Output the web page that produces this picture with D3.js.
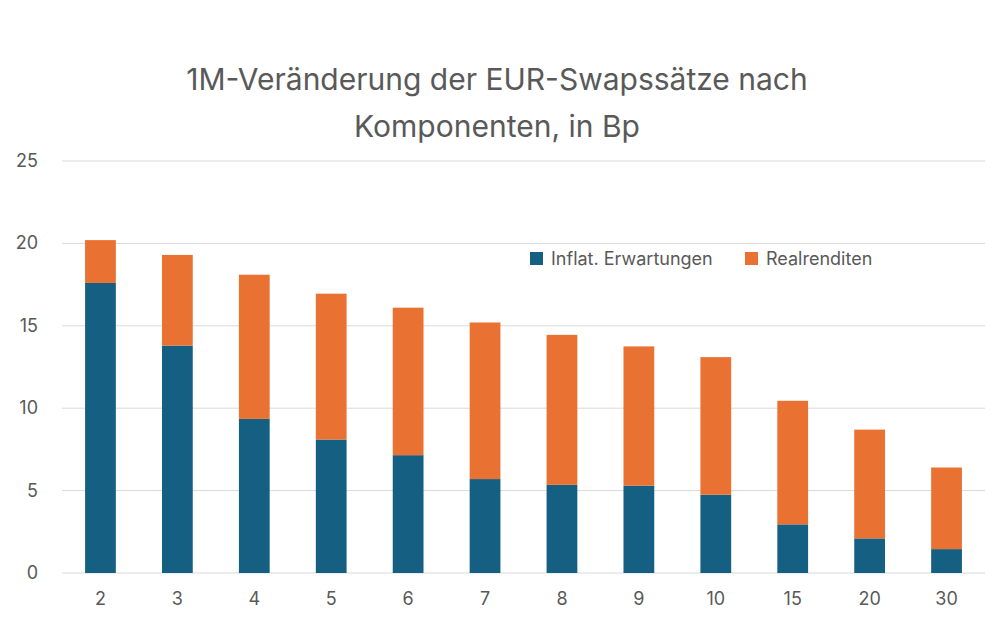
<!DOCTYPE html>
<html>
<head>
<meta charset="utf-8">
<script src="https://cdn.jsdelivr.net/npm/d3@7"></script>
<style>
  body { margin: 0; background: #fff; }
  text { font-family: Inter, "Open Sans", sans-serif; fill: #595959; }
</style>
</head>
<body>
<svg width="1008" height="642"></svg>
<script>
const laufzeiten = ['2', '3', '4', '5', '6', '7', '8', '9', '10', '15', '20', '30']
const inflation = [17.6, 13.8, 9.35, 8.1, 7.15, 5.7, 5.35, 5.3, 4.75, 2.95, 2.1, 1.45]
const gesamt = [20.2, 19.3, 18.1, 16.95, 16.1, 15.2, 14.45, 13.75, 13.1, 10.45, 8.7, 6.4]
const real = gesamt.map((g, i) => +(g - inflation[i]).toFixed(2))
const yTicks = [0, 5, 10, 15, 20, 25]
const serien = [
  { name: 'Inflat. Erwartungen', color: '#156082' },
  { name: 'Realrenditen', color: '#E97132' }
]

const svg = d3.select('svg')
const plotLeft = 62, plotRight = 985, plotTop = 161, plotBottom = 573

const x = d3.scaleBand().domain(laufzeiten).range([plotLeft, plotRight]).paddingInner(0.6).paddingOuter(0.3)
const y = d3.scaleLinear().domain([0, 25]).range([plotBottom, plotTop])

// gridlines + y labels
svg.selectAll('.grid').data(yTicks).join('line')
  .attr('x1', plotLeft).attr('x2', plotRight)
  .attr('y1', d => y(d)).attr('y2', d => y(d))
  .attr('stroke', '#d9d9d9').attr('stroke-width', 1)
svg.selectAll('.ylab').data(yTicks).join('text')
  .attr('x', 38).attr('y', d => y(d) + 6)
  .attr('text-anchor', 'end').attr('font-size', 18)
  .text(d => d)

// stacked bars
const stack = laufzeiten.map((k, i) => ({ k, a: inflation[i], b: real[i] }))
svg.selectAll('.inf').data(stack).join('rect')
  .attr('x', d => x(d.k)).attr('width', x.bandwidth())
  .attr('y', d => y(d.a)).attr('height', d => y(0) - y(d.a))
  .attr('fill', serien[0].color)
svg.selectAll('.real').data(stack).join('rect')
  .attr('x', d => x(d.k)).attr('width', x.bandwidth())
  .attr('y', d => y(d.a + d.b)).attr('height', d => y(d.a) - y(d.a + d.b))
  .attr('fill', serien[1].color)

// x labels
svg.selectAll('.xlab').data(laufzeiten).join('text')
  .attr('x', d => x(d) + x.bandwidth() / 2).attr('y', 605)
  .attr('text-anchor', 'middle').attr('font-size', 18)
  .text(d => d)

// title
svg.append('text').attr('x', 497).attr('y', 90).attr('text-anchor', 'middle')
  .attr('font-size', 30).text('1M-Veränderung der EUR-Swapssätze nach')
svg.append('text').attr('x', 497).attr('y', 137).attr('text-anchor', 'middle')
  .attr('font-size', 30).text('Komponenten, in Bp')

// legend
const legX = [530, 745]
serien.forEach((s, i) => {
  svg.append('rect').attr('x', legX[i]).attr('y', 252).attr('width', 13).attr('height', 13).attr('fill', s.color)
  svg.append('text').attr('x', legX[i] + 21).attr('y', 265).attr('font-size', 18).text(s.name)
})
</script>
</body>
</html>
